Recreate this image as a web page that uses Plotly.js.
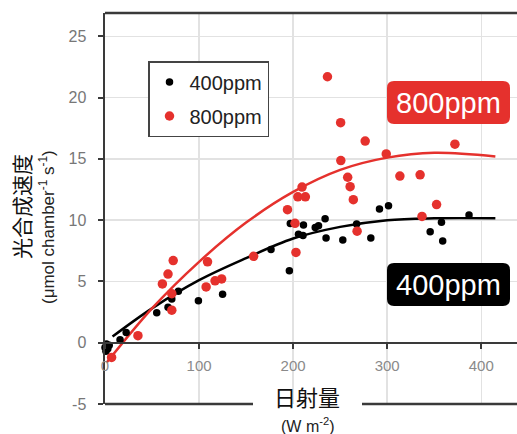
<!DOCTYPE html>
<html><head><meta charset="utf-8">
<script src="https://cdn.plot.ly/plotly-3.0.1.min.js"></script>
<style>html,body{margin:0;padding:0;background:#fff}#chart{width:517px;height:434px}</style>
</head><body><div id="chart"></div>
<script>
// ---- data ----
const seriesNames = ['400ppm', '800ppm'];
const x400 = [0, 1.5, 3, 1, 4.5, 16, 22.5, 55, 67, 71, 78, 99.3, 125, 176.5, 196, 197, 211, 205.7, 210.5, 223.5, 227, 234, 235, 252.8, 267.5, 282.6, 291.8, 301.4, 345.7, 357.7, 359, 387];
const y400 = [-0.4, -0.1, -0.5, -0.7, -0.2, 0.25, 0.84, 2.45, 2.9, 3.56, 4.2, 3.43, 3.95, 7.6, 5.88, 9.72, 9.6, 8.85, 8.75, 9.4, 9.55, 10.12, 8.55, 8.38, 9.69, 8.55, 10.9, 11.18, 9.06, 9.82, 8.3, 10.42];
const x800 = [7, 35, 61, 67, 72.5, 71, 71, 109, 107.5, 117, 124, 158, 194, 202, 203, 209.5, 205, 213, 236.5, 250.5, 250.7, 258, 260.6, 264, 268, 276.6, 299, 313.5, 335, 337, 352.5, 372];
const y800 = [-1.2, 0.57, 4.8, 5.6, 6.7, 4.0, 2.65, 6.6, 4.55, 5.05, 5.2, 7.05, 10.85, 9.74, 7.37, 12.7, 11.9, 11.9, 21.7, 17.95, 14.86, 13.5, 12.73, 11.67, 9.1, 16.45, 15.4, 13.6, 13.7, 10.3, 11.27, 16.2];
const fitX400 = [8, 50, 100, 150, 200, 250, 300, 350, 415];
const fitY400 = [0.5, 2.8, 5.1, 6.9, 8.5, 9.45, 10.0, 10.15, 10.15];
const fitX800 = [2, 50, 100, 150, 200, 250, 300, 350, 415];
const fitY800 = [-1.6, 2.8, 6.6, 9.8, 12.3, 14.1, 15.1, 15.5, 15.2];
const xTicks = [0, 100, 200, 300, 400];
const yTicks = [-5, 0, 5, 10, 15, 20, 25];
const yTitle = '光合成速度';
const yUnit = '(μmol chamber<sup>-1</sup> s<sup>-1</sup>)';
const xTitle = '日射量';
const xUnit = '(W m<sup>-2</sup>)';

// ---- style / geometry ----
const W = 517, H = 434, ML = 105, MR = 0, MT = 13, MB = 30;
const PW = W - ML - MR, PH = H - MT - MB;
const yRange = [-5, 26.9], xRange = [0, 438];
const px = v => (v - ML) / PW;
const py = v => 1 - (v - MT) / PH;
const RED = '#e5312d', BLK = '#000000', AX = '#3a3a3a', GRID = '#e2e2e2';
const FONT = 'Arial, "Liberation Sans", Helvetica, sans-serif';
const CJK = '"Noto Sans CJK JP", "Noto Sans CJK SC", sans-serif';

function roundRect(x0, y0, x1, y1, r) {
  const a = px(x0), b = px(x1), c = py(y0), d = py(y1);
  const rx = r / PW, ry = r / PH;
  return `M ${a + rx} ${c} L ${b - rx} ${c} Q ${b} ${c} ${b} ${c - ry} L ${b} ${d + ry} Q ${b} ${d} ${b - rx} ${d} L ${a + rx} ${d} Q ${a} ${d} ${a} ${d + ry} L ${a} ${c - ry} Q ${a} ${c} ${a + rx} ${c} Z`;
}

const zeroPos = (0 - yRange[0]) / (yRange[1] - yRange[0]);

const traces = [
  {x: fitX400, y: fitY400, mode: 'lines', line: {color: BLK, width: 2.5, shape: 'spline'}, showlegend: false, hoverinfo: 'skip'},
  {x: fitX800, y: fitY800, mode: 'lines', line: {color: RED, width: 2.5, shape: 'spline'}, showlegend: false, hoverinfo: 'skip'},
  {x: x400, y: y400, mode: 'markers', name: seriesNames[0], legendgroup: 'a', marker: {color: BLK, size: 7.5}, cliponaxis: false},
  {x: x800, y: y800, mode: 'markers', name: seriesNames[1], legendgroup: 'b', marker: {color: RED, size: 9.5}, cliponaxis: false}
];

const layout = {
  width: W, height: H,
  margin: {l: ML, r: MR, t: MT, b: MB, pad: 0},
  paper_bgcolor: '#fff', plot_bgcolor: '#fff',
  font: {family: FONT, color: '#222'},
  showlegend: true,
  legend: {
    x: px(148), y: py(61), xanchor: 'left', yanchor: 'top',
    bgcolor: '#fff', bordercolor: '#444', borderwidth: 1.5,
    font: {family: FONT, size: 20, color: '#222'},
    tracegroupgap: 5, traceorder: 'grouped'
  },
  xaxis: {
    range: xRange, anchor: 'free', position: zeroPos,
    tickvals: xTicks, ticktext: xTicks.map(String),
    showline: true, linecolor: AX, linewidth: 2.5,
    ticks: 'outside', ticklen: 5, tickwidth: 2, tickcolor: AX,
    tickfont: {family: FONT, size: 15, color: '#8a8a8a'}, ticklabelstandoff: 4,
    showgrid: true, gridcolor: GRID, gridwidth: 1.5, zeroline: false
  },
  xaxis2: {
    overlaying: 'x', matches: 'x', anchor: 'free', position: zeroPos,
    tickvals: xTicks, showticklabels: false, ticks: 'inside', ticklen: 5, tickwidth: 2, tickcolor: AX,
    showline: false, showgrid: false, zeroline: false
  },
  yaxis: {
    range: yRange, tickvals: yTicks, ticktext: yTicks.map(String),
    showline: true, linecolor: AX, linewidth: 2.5,
    ticks: 'outside', ticklen: 5, tickwidth: 2, tickcolor: AX,
    tickfont: {family: FONT, size: 16, color: '#777'}, ticklabelstandoff: 8,
    showgrid: true, gridcolor: GRID, gridwidth: 1.5, zeroline: false
  },
  shapes: [
    {type: 'line', xref: 'paper', yref: 'paper', x0: 0, x1: 1, y0: 1, y1: 1, line: {color: AX, width: 2.5}},
    {type: 'line', xref: 'paper', yref: 'paper', x0: 0, x1: px(253), y0: 0, y1: 0, line: {color: AX, width: 2.5}},
    {type: 'line', xref: 'paper', yref: 'paper', x0: px(362), x1: 1.05, y0: 0, y1: 0, line: {color: AX, width: 2.5}},
    {type: 'path', xref: 'paper', yref: 'paper', path: roundRect(387, 81, 510, 124, 7), fillcolor: RED, line: {width: 0}, layer: 'above'},
    {type: 'path', xref: 'paper', yref: 'paper', path: roundRect(387, 263, 510, 306, 7), fillcolor: BLK, line: {width: 0}, layer: 'above'}
  ],
  annotations: [
    {xref: 'paper', yref: 'paper', x: px(448.5), y: py(103), text: seriesNames[1], showarrow: false, font: {family: FONT, size: 29, color: '#fff'}, xanchor: 'center', yanchor: 'middle'},
    {xref: 'paper', yref: 'paper', x: px(448.5), y: py(285), text: seriesNames[0], showarrow: false, font: {family: FONT, size: 29, color: '#fff'}, xanchor: 'center', yanchor: 'middle'},
    {xref: 'paper', yref: 'paper', x: px(21), y: py(207), text: yTitle, textangle: -90, showarrow: false, font: {family: CJK, size: 21, color: '#111'}, xanchor: 'center', yanchor: 'middle'},
    {xref: 'paper', yref: 'paper', x: px(47), y: py(227), text: yUnit, textangle: -90, showarrow: false, font: {family: FONT, size: 17, color: '#222'}, xanchor: 'center', yanchor: 'middle'},
    {xref: 'paper', yref: 'paper', x: px(307), y: py(396), text: xTitle, showarrow: false, font: {family: CJK, size: 22, color: '#111'}, xanchor: 'center', yanchor: 'middle'},
    {xref: 'paper', yref: 'paper', x: px(307), y: py(425), text: xUnit, showarrow: false, font: {family: FONT, size: 16, color: '#222'}, xanchor: 'center', yanchor: 'middle'}
  ]
};

Plotly.newPlot('chart', traces, layout, {displayModeBar: false, staticPlot: true});
</script>
</body></html>
